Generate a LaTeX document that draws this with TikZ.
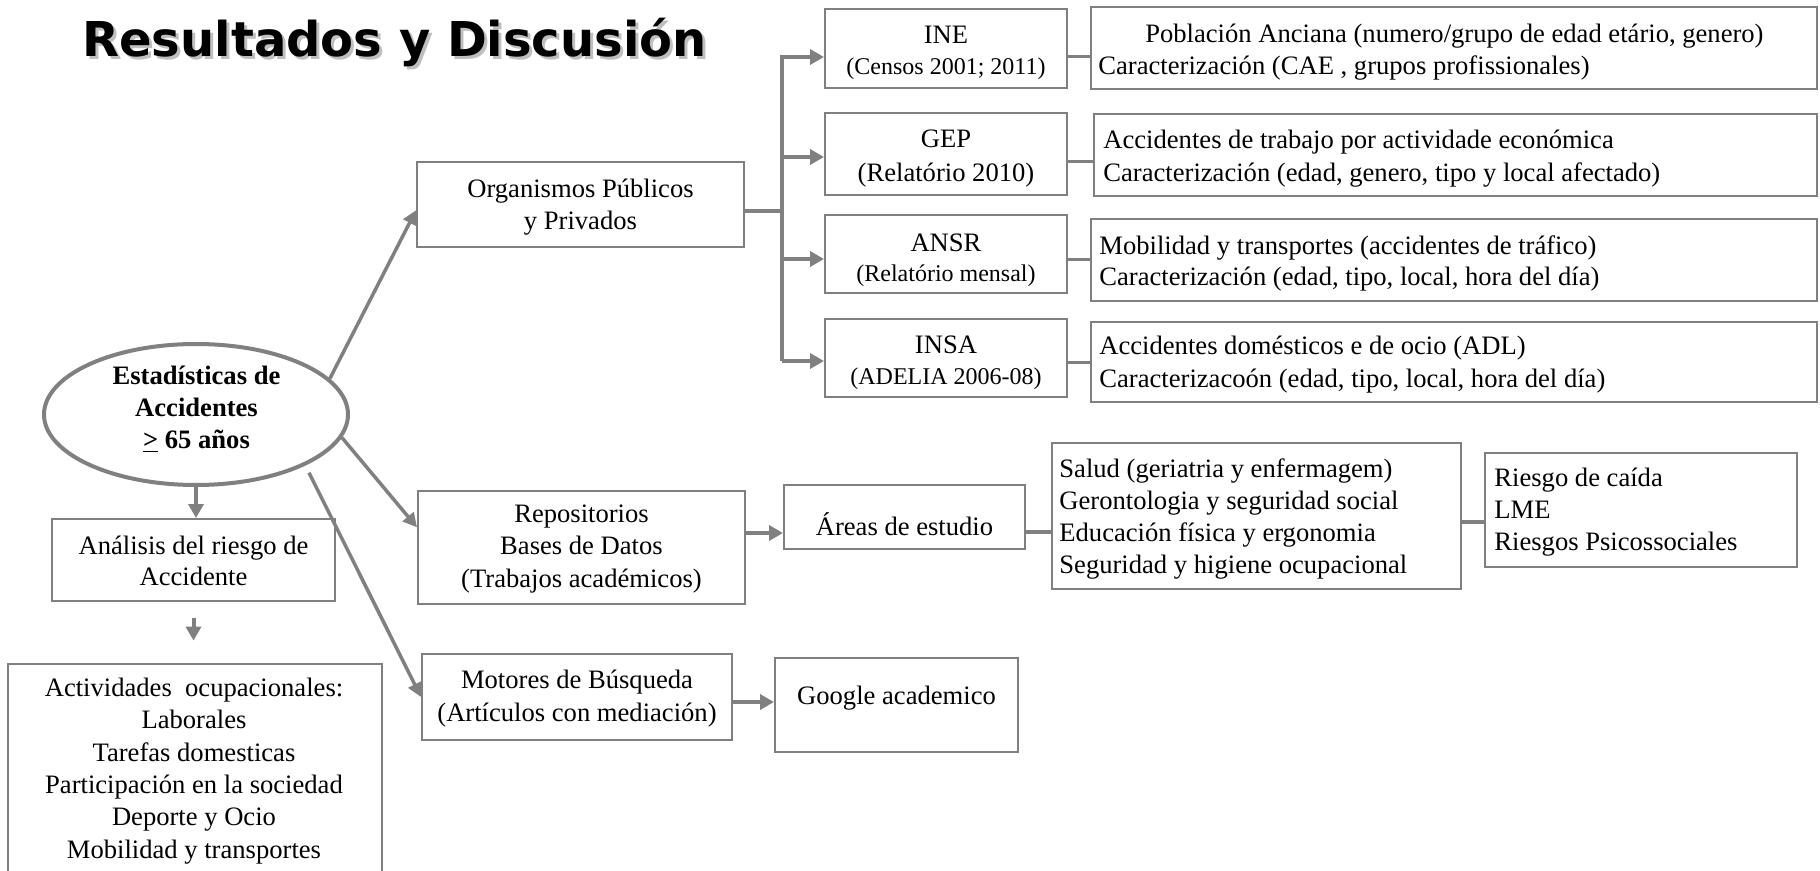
\documentclass[tikz,border=0pt]{standalone}
\usepackage{graphicx}
\usepackage{fontspec}
\setmainfont{Liberation Serif}
\newfontfamily\titlefont{DejaVu Sans}
\usetikzlibrary{arrows.meta,shapes.geometric}
\definecolor{lg}{RGB}{128,128,128}
\newcommand\smallsz{\fontsize{12}{15}\selectfont}
\newcommand\titletext{\titlefont\bfseries\fontsize{24}{28}\selectfont Resultados y Discusión}
\begin{document}
\begin{tikzpicture}[x=0.5pt,y=-0.5pt,
  box/.style={draw=lg, line width=1pt, rectangle, inner sep=0pt},
  txt/.style={inner sep=0pt, align=center, font=\fontsize{13.3}{16}\selectfont},
  ltxt/.style={inner sep=0pt, align=left, anchor=west, font=\fontsize{13.3}{16}\selectfont},
  conn/.style={draw=lg, line width=1.5pt},
  arr/.style={draw=lg, line width=2pt, -{Triangle[length=7pt,width=7.5pt]}},
  darr/.style={draw=lg, line width=1.75pt, -{Triangle[length=7pt,width=7pt]}}
]
\useasboundingbox (0,0) rectangle (1820,871);
\clip (0,0) rectangle (1820,871);

% title
\node[inner sep=0pt, anchor=base west, text=gray!50] (tshadow) at (85,60) {\titletext};
\node[inner sep=0pt, anchor=base west, text=black] (title) at (82,57) {\titletext};

% boxes
\node[box, minimum width=121pt, minimum height=39.5pt] (ine) at (946,48.5) {};
\node[box, minimum width=121pt, minimum height=41pt] (gep) at (946,154) {};
\node[box, minimum width=121pt, minimum height=39pt] (ansr) at (946,254) {};
\node[box, minimum width=121pt, minimum height=39pt] (insa) at (946,358) {};
\node[box, minimum width=363pt, minimum height=41pt] (d1) at (1454,48) {};
\node[box, minimum width=361.5pt, minimum height=41pt] (d2) at (1455.5,155) {};
\node[box, minimum width=363pt, minimum height=41pt] (d3) at (1454,260) {};
\node[box, minimum width=363pt, minimum height=40pt] (d4) at (1454,362) {};
\node[box, minimum width=163.5pt, minimum height=42.5pt] (org) at (580.5,204.5) {};
\node[box, minimum width=163.5pt, minimum height=56.5pt] (repo) at (581.5,547.5) {};
\node[box, minimum width=155pt, minimum height=43pt] (mot) at (577,697) {};
\node[box, minimum width=120.5pt, minimum height=32pt] (areas) at (904.5,517) {};
\node[box, minimum width=204.5pt, minimum height=73pt] (salud) at (1256.5,516) {};
\node[box, minimum width=156pt, minimum height=57pt] (riesgo) at (1641,510) {};
\node[box, minimum width=121.5pt, minimum height=47pt] (google) at (896.5,705) {};
\node[box, minimum width=141.5pt, minimum height=41pt] (anal) at (193.5,560) {};
\node[box, minimum width=187pt, minimum height=118pt] (activ) at (195,782) {};
\node[draw=lg, line width=2pt, ellipse, inner sep=0pt, minimum width=152pt, minimum height=70.5pt] (ell) at (196,414.5) {};

% texts
\node[txt, font=\fontsize{13.3}{15.5}\selectfont] (ine-t) at (946,53) {INE\\{\smallsz (Censos 2001; 2011)}};
\node[txt, font=\fontsize{13.3}{17}\selectfont] (gep-t) at (946,159) {GEP\\(Relatório 2010)};
\node[txt, font=\fontsize{13.3}{15}\selectfont] (ansr-t) at (946,260) {ANSR\\{\smallsz (Relatório mensal)}};
\node[txt, font=\fontsize{13.3}{15.5}\selectfont] (insa-t) at (946,363) {INSA\\{\smallsz (ADELIA 2006-08)}};
\node[ltxt] (d1-t) at (1098,52) {\makebox[356pt][c]{Población Anciana (numero/grupo de edad etário, genero)}\\Caracterización (CAE , grupos profissionales)};
\node[ltxt, font=\fontsize{13.3}{16.5}\selectfont] (d2-t) at (1103,159) {Accidentes de trabajo por actividade económica\\Caracterización (edad, genero, tipo y local afectado)};
\node[ltxt, font=\fontsize{13.3}{15.5}\selectfont] (d3-t) at (1099,263.5) {Mobilidad y transportes (accidentes de tráfico)\\Caracterización (edad, tipo, local, hora del día)};
\node[ltxt, font=\fontsize{13.3}{16.5}\selectfont] (d4-t) at (1099,364.5) {Accidentes domésticos e de ocio (ADL)\\Caracterizacoón (edad, tipo, local, hora del día)};
\node[txt] (org-t) at (580.5,207) {Organismos Públicos\\y Privados};
\node[txt, font=\fontsize{13.3}{16.25}\selectfont] (repo-t) at (581.5,549) {Repositorios\\Bases de Datos\\(Trabajos académicos)};
\node[txt, font=\fontsize{13.3}{16.5}\selectfont] (mot-t) at (577,699) {Motores de Búsqueda\\(Artículos con mediación)};
\node[txt] (areas-t) at (904.5,524) {Áreas de estudio};
\node[ltxt] (salud-t) at (1059,519) {Salud (geriatria y enfermagem)\\Gerontologia y seguridad social\\Educación física y ergonomia\\Seguridad y higiene ocupacional};
\node[ltxt] (riesgo-t) at (1494,512) {Riesgo de caída\\LME\\Riesgos Psicossociales};
\node[txt] (google-t) at (896.5,698) {Google academico};
\node[txt, font=\fontsize{13.3}{15.75}\selectfont] (anal-t) at (193.5,561) {Análisis del riesgo de\\Accidente};
\node[txt, font=\fontsize{13.3}{16.2}\selectfont] (activ-t) at (194,771) {Actividades\ \ ocupacionales:\\Laborales\\Tarefas domesticas\\Participación en la sociedad\\Deporte y Ocio\\Mobilidad y transportes};
\node[txt, font=\bfseries\fontsize{13.3}{16}\selectfont] (ell-t) at (196.5,409) {Estadísticas de\\Accidentes\\\underline{>} 65 años};

% connectors from the ellipse
\draw[arr] (ell.south) -- (ell.south |- anal.north);
\draw[arr, shorten <=7.8pt, shorten >=11.2pt] (anal.south) -- (anal.south |- activ.north);
\draw[darr] (ell.15.8) -- (org.182);
\draw[darr] (ell.-9.4) -- (repo.173);
\draw[darr, shorten <=4pt] (ell.-25.3) -- (mot.west);

% trunk
\coordinate (tj) at (782,211);
\coordinate (t1) at (782,57);
\coordinate (t2) at (782,157);
\coordinate (t3) at (782,259);
\coordinate (t4) at (782,361);
\draw[conn, line width=2pt] (org.east |- tj) -- (tj);
\draw[arr] (t4) -- (t1) -- (t1 -| ine.west);
\draw[arr] (t2) -- (t2 -| gep.west);
\draw[arr] (t3) -- (t3 -| ansr.west);
\draw[arr] (t4) -- (t4 -| insa.west);

% source -> detail
\coordinate (c1) at (1080,57);
\coordinate (c2) at (1080,162);
\coordinate (c3) at (1080,260);
\coordinate (c4) at (1080,363);
\draw[conn] (c1 -| ine.east) -- (c1 -| d1.west);
\draw[conn] (c2 -| gep.east) -- (c2 -| d2.west);
\draw[conn] (c3 -| ansr.east) -- (c3 -| d3.west);
\draw[conn] (c4 -| insa.east) -- (c4 -| d4.west);

% lower chain
\coordinate (r1) at (765,533);
\coordinate (r2) at (1040,532);
\coordinate (r3) at (1473,522);
\coordinate (r4) at (755,702);
\draw[arr] (r1 -| repo.east) -- (r1 -| areas.west);
\draw[conn, line width=2pt] (r2 -| areas.east) -- (r2 -| salud.west);
\draw[conn, line width=2pt] (r3 -| salud.east) -- (r3 -| riesgo.west);
\draw[arr] (r4 -| mot.east) -- (r4 -| google.west);
\end{tikzpicture}
\end{document}
